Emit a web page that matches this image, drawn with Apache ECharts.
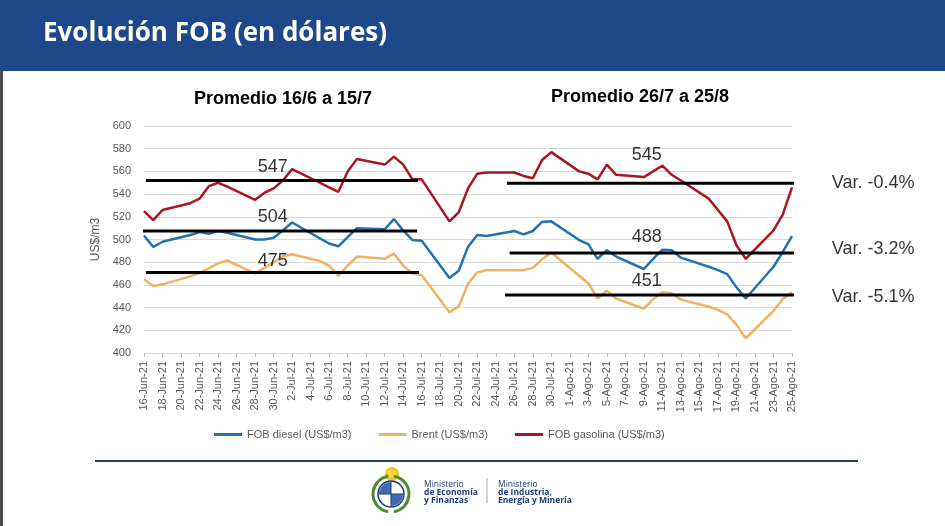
<!DOCTYPE html>
<html>
<head>
<meta charset="utf-8">
<script src="https://cdn.jsdelivr.net/npm/echarts@6/dist/echarts.min.js"></script>
<style>
html,body{margin:0;padding:0;background:#fff;}
#chart{width:945px;height:526px;}
</style>
</head>
<body>
<div id="chart"></div>
<script>
// ---- Data ----
var days = [
 '16-Jun-21','17-Jun-21','18-Jun-21','19-Jun-21','20-Jun-21','21-Jun-21','22-Jun-21','23-Jun-21','24-Jun-21','25-Jun-21',
 '26-Jun-21','27-Jun-21','28-Jun-21','29-Jun-21','30-Jun-21',
 '1-Jul-21','2-Jul-21','3-Jul-21','4-Jul-21','5-Jul-21','6-Jul-21','7-Jul-21','8-Jul-21','9-Jul-21','10-Jul-21',
 '11-Jul-21','12-Jul-21','13-Jul-21','14-Jul-21','15-Jul-21','16-Jul-21','17-Jul-21','18-Jul-21','19-Jul-21','20-Jul-21',
 '21-Jul-21','22-Jul-21','23-Jul-21','24-Jul-21','25-Jul-21','26-Jul-21','27-Jul-21','28-Jul-21','29-Jul-21','30-Jul-21','31-Jul-21',
 '1-Ago-21','2-Ago-21','3-Ago-21','4-Ago-21','5-Ago-21','6-Ago-21','7-Ago-21','8-Ago-21','9-Ago-21','10-Ago-21',
 '11-Ago-21','12-Ago-21','13-Ago-21','14-Ago-21','15-Ago-21','16-Ago-21','17-Ago-21','18-Ago-21','19-Ago-21','20-Ago-21',
 '21-Ago-21','22-Ago-21','23-Ago-21','24-Ago-21','25-Ago-21'
];
// null = weekend (no quote)
var diesel = [
 503.5,493.5,498,null,null,504,506.5,505,507.5,506,
 null,null,500,500,501.5,
 508,515,null,null,501,496.5,494,502,510,null,
 null,509,518,508,499.5,499,null,null,466,472.5,
 493.5,504,503,null,null,507.5,504.5,507.5,515.5,516,null,
 null,499.5,496,483,490.5,485,null,null,474,483,
 491,490.5,484,null,null,476,473,469.5,458,448,
 null,null,476,489,503
];
var brent = [
 465,459,460.5,null,null,467.5,470.5,474.5,479,481.5,
 null,null,470,475,480,
 485,487,null,null,481,477,468,477,485,null,
 null,483,487.5,477,470,468.5,null,null,436,441,
 461,471,473,null,null,473,473,475,482.5,488.5,null,
 null,468,461.5,448,455,448,null,null,439,447.5,
 453.5,452.5,447,null,null,441,438,434,425,413,
 null,null,437,447.5,453.5
];
var gasolina = [
 525,517,526,null,null,532,536,547,550,546.5,
 null,null,535,541,545,
 552,562,null,null,550,546,542,560,571,null,
 null,566,573,566,553,553,null,null,516,524,
 545,558,559,null,null,559,556,554,570,577,null,
 null,560,558,553,566,557,null,null,555,560,
 565,557,552,null,null,536,526,516,495,483,
 null,null,508,522,546
];
var seriesNames = ['FOB diesel (US$/m3)','Brent (US$/m3)','FOB gasolina (US$/m3)'];
// Period averages (drawn level, label text)
var avgLevels1 = [552, 507.5, 471];
var avgTexts1  = ['547','504','475'];
var avgLevels2 = [549.5, 488, 451];
var avgTexts2  = ['545','488','451'];
var varTexts   = ['Var. -0.4%','Var. -3.2%','Var. -5.1%'];
var yTicks = {min:400, max:600, step:20};

// ---- Chart ----
var chart = echarts.init(document.getElementById('chart'), null, {renderer:'canvas'});
var colors = ['#2472AD','#F2B061','#A8171F'];
var FONT = '"Liberation Sans", Arial, sans-serif';

var span1 = [[0.2,29.6],[-0.1,29.5],[0.2,29.7]];
var span2 = [[39.2,70.4],[39.5,70.5],[39.0,70.2]];
var avgSeries = [];
[0,1,2].forEach(function(i){
  avgSeries.push({type:'line', xAxisIndex:1, yAxisIndex:0, silent:true, clip:false, z:5,
    symbol:'none', lineStyle:{color:'#000', width:3},
    data:[[span1[i][0],avgLevels1[i]],[span1[i][1],avgLevels1[i]]]});
  avgSeries.push({type:'line', xAxisIndex:1, yAxisIndex:0, silent:true, clip:false, z:5,
    symbol:'none', lineStyle:{color:'#000', width:3},
    data:[[span2[i][0],avgLevels2[i]],[span2[i][1],avgLevels2[i]]]});
});
// label anchors (value coords)
var lab1Y = [564.1, 520, 481.2];
var lab2Y = [574.4, 502.5, 463.2];
var varY = [549.7, 491.5, 449];
var labData = [];
[0,1,2].forEach(function(i){
  labData.push({name:avgTexts1[i], value:[13.9, lab1Y[i]]});
  labData.push({name:avgTexts2[i], value:[54.3, lab2Y[i]]});
});
var varData = varTexts.map(function(t,i){return {name:t, value:[74.3, varY[i]]};});

var option = {
  animation:false,
  textStyle:{fontFamily:FONT},
  grid:{left:144, right:153, top:126, bottom:173, containLabel:false},
  legend:{
    data:seriesNames, left:214, top:429, padding:0, itemGap:27,
    icon:'rect', itemWidth:28, itemHeight:3,
    textStyle:{fontSize:11, color:'#595959', fontFamily:FONT}
  },
  xAxis:[{
    type:'category', data:days, boundaryGap:false,
    axisLine:{show:true, lineStyle:{color:'#d9d9d9'}},
    axisTick:{show:true, interval:1, length:4, lineStyle:{color:'#bfbfbf'}},
    axisLabel:{interval:1, rotate:90, fontSize:11, color:'#595959', margin:8, fontFamily:FONT},
    splitLine:{show:false}
  },{
    type:'value', min:0, max:70, show:false
  }],
  yAxis:{
    type:'value', min:yTicks.min, max:yTicks.max, interval:yTicks.step,
    name:'US$/m3', nameLocation:'middle', nameGap:37,
    nameTextStyle:{fontSize:12, color:'#595959', fontFamily:FONT},
    axisLine:{show:false}, axisTick:{show:false},
    axisLabel:{fontSize:11, color:'#595959', margin:13, fontFamily:FONT},
    splitLine:{lineStyle:{color:'#d9d9d9', width:1}}
  },
  series:[
    {name:seriesNames[0], type:'line', data:diesel, connectNulls:true, symbol:'none',
     lineStyle:{width:2.5, color:colors[0]}, itemStyle:{color:colors[0]}, z:3},
    {name:seriesNames[1], type:'line', data:brent, connectNulls:true, symbol:'none',
     lineStyle:{width:2.5, color:colors[1]}, itemStyle:{color:colors[1]}, z:2},
    {name:seriesNames[2], type:'line', data:gasolina, connectNulls:true, symbol:'none',
     lineStyle:{width:2.5, color:colors[2]}, itemStyle:{color:colors[2]}, z:4}
  ].concat(avgSeries).concat([
    {type:'scatter', xAxisIndex:1, silent:true, clip:false, symbolSize:0, z:6, data:labData,
     label:{show:true, position:'inside', formatter:'{b}', fontSize:18, color:'#000', fontFamily:FONT}},
    {type:'scatter', xAxisIndex:1, silent:true, clip:false, symbolSize:0, z:6, data:varData,
     label:{show:true, position:'right', distance:0, formatter:'{b}', fontSize:18, color:'#000', fontFamily:FONT}}
  ]),
  graphic:[
    {type:'rect', left:0, top:0, shape:{width:945, height:71}, style:{fill:'#1E4889'}, silent:true},
    {type:'rect', left:0, top:71, shape:{width:3, height:455}, style:{fill:'#4a4a4a'}, silent:true},
    {type:'text', x:43, y:34, style:{text:'Evolución FOB (en dólares)', fill:'#fff', verticalAlign:'middle',
      font:'bold 26px "Open Sans", Lato, sans-serif'}},
    {type:'text', x:283, y:99, style:{text:'Promedio 16/6 a 15/7', fill:'#000', align:'center', verticalAlign:'middle',
      font:'bold 18px "Liberation Sans", Arial, sans-serif'}},
    {type:'text', x:640, y:97, style:{text:'Promedio 26/7 a 25/8', fill:'#000', align:'center', verticalAlign:'middle',
      font:'bold 18px "Liberation Sans", Arial, sans-serif'}},
    {type:'line', shape:{x1:95, y1:461, x2:858, y2:461}, style:{stroke:'#2b3f6b', lineWidth:2}},
    // coat of arms (simplified)
    {type:'group', children:[
      {type:'circle', shape:{cx:392, cy:474, r:7}, style:{fill:'#F5C518'}},
      {type:'circle', shape:{cx:392, cy:474, r:4}, style:{fill:'#F9D84A'}},
      {type:'arc', shape:{cx:391, cy:494, r:18, startAngle:Math.PI*0.55, endAngle:Math.PI*1.45}, style:{stroke:'#4f8a35', lineWidth:3, fill:null}},
      {type:'arc', shape:{cx:391, cy:494, r:18, startAngle:-Math.PI*0.45, endAngle:Math.PI*0.45}, style:{stroke:'#4f8a35', lineWidth:3, fill:null}},
      {type:'circle', shape:{cx:391, cy:494, r:13}, style:{fill:'#fff', stroke:'#1d3c78', lineWidth:1.5}},
      {type:'sector', shape:{cx:391, cy:494, r:12, startAngle:Math.PI, endAngle:Math.PI*1.5}, style:{fill:'#3d6db4'}},
      {type:'sector', shape:{cx:391, cy:494, r:12, startAngle:0, endAngle:Math.PI*0.5}, style:{fill:'#3d6db4'}},
      {type:'line', shape:{x1:391, y1:482, x2:391, y2:506}, style:{stroke:'#1d3c78', lineWidth:1}},
      {type:'line', shape:{x1:379, y1:494, x2:403, y2:494}, style:{stroke:'#1d3c78', lineWidth:1}}
    ]},
    {type:'text', left:424, top:480, style:{text:'Ministerio', fill:'#1d3c78', font:'8.5px "Open Sans", sans-serif'}},
    {type:'text', left:424, top:488, style:{text:'de Economía', fill:'#1d3c78', font:'bold 8.5px "Open Sans", sans-serif'}},
    {type:'text', left:424, top:496, style:{text:'y Finanzas', fill:'#1d3c78', font:'bold 8.5px "Open Sans", sans-serif'}},
    {type:'line', shape:{x1:487, y1:478, x2:487, y2:503}, style:{stroke:'#9aa3b5', lineWidth:1}},
    {type:'text', left:498, top:480, style:{text:'Ministerio', fill:'#1d3c78', font:'8.5px "Open Sans", sans-serif'}},
    {type:'text', left:498, top:488, style:{text:'de Industria,', fill:'#1d3c78', font:'bold 8.5px "Open Sans", sans-serif'}},
    {type:'text', left:498, top:496, style:{text:'Energía y Minería', fill:'#1d3c78', font:'bold 8.5px "Open Sans", sans-serif'}}
  ]
};
chart.setOption(option);
</script>
</body>
</html>
